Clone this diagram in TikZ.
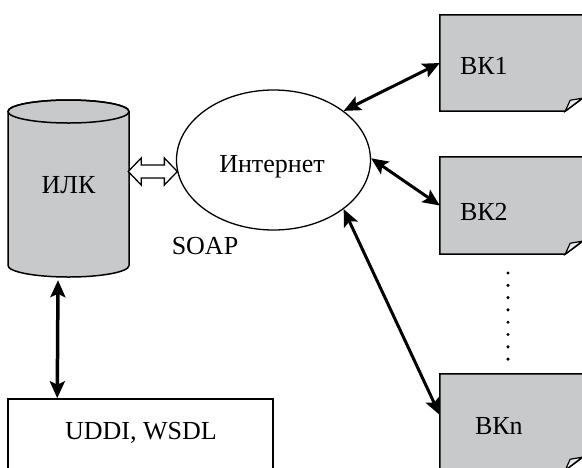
\documentclass[tikz,border=0pt]{standalone}
\usepackage{fontspec}
\setmainfont{Liberation Serif}
\usetikzlibrary{shapes.geometric,arrows.meta,calc}
\definecolor{docgray}{RGB}{200,201,203}
\begin{document}
\begin{tikzpicture}[x=1pt,y=-1pt,
  lbl/.style={font=\fontsize{26}{31}\selectfont, inner sep=0pt},
  conn/.style={line width=3pt, {Stealth[length=17pt,width=15pt,inset=3.5pt]}-{Stealth[length=17pt,width=15pt,inset=3.5pt]}},
  docbox/.style={rectangle, minimum width=144pt, minimum height=96pt, inner sep=0pt},
  shapeline/.style={draw=black, line width=1.5pt, line join=miter},
  dotty/.style={fill=black}]
\useasboundingbox (0,0) rectangle (582,467);

% cylinder ИЛК
\filldraw[fill=docgray, shapeline] (8,111.5) -- (8,265.5)
  arc[start angle=180, end angle=0, x radius=60.5, y radius=11.5]
  -- (129,111.5)
  arc[start angle=0, end angle=-180, x radius=60.5, y radius=11.5] -- cycle;
\draw[shapeline] (68.5,111.5) ellipse [x radius=60.5, y radius=11.5];
\node[rectangle, minimum width=121pt, minimum height=177pt, inner sep=0pt] (ilk) at (68.5,188.5) {};
\node[lbl] (ilktxt) at (68.5,185) {ИЛК};

% Internet ellipse
\node[ellipse, draw, line width=1.3pt, minimum width=194pt, minimum height=140pt, inner sep=0pt, lbl] (inet) at (273.5,160) {};
\node[lbl] (inettxt) at (272,167) {Интернет};
\node[lbl] (soap) at (205,246) {SOAP};

% documents
\node[docbox] (bk1) at (512,63) {};
\node[docbox, minimum height=97pt] (bk2) at (512,205.5) {};
\node[docbox] (bkn) at (512,422) {};
\foreach \n in {bk1,bk2,bkn}{
  \filldraw[fill=docgray, shapeline] (\n.north west) -- (\n.north east)
    -- ($(\n.south east)+(0,-14)$) -- ($(\n.south east)+(-19,0)$) -- (\n.south west) -- cycle;
  \filldraw[fill=docgray!35, draw=black, line width=1.2pt, line join=miter]
    ($(\n.south east)+(-19,0)$) -- ($(\n.south east)+(-14,-11)$) -- ($(\n.south east)+(-2,-13)$) -- cycle;
}
\node[lbl, anchor=west] (bk1txt) at ($(bk1.west)+(20,3)$) {ВК1};
\node[lbl, anchor=west] (bk2txt) at ($(bk2.west)+(20,6)$) {ВК2};
\node[lbl, anchor=west] (bkntxt) at ($(bkn.west)+(35,4)$) {ВКn};

% dots
\foreach \k in {0,...,7}{
  \fill[dotty] (508,{273+12.3*\k}) circle (1.7);
}

% UDDI box
\node[rectangle, draw, line width=1.5pt, minimum width=265pt, minimum height=80pt, inner sep=0pt] (uddi) at (140.5,439) {};
\node[lbl] (uddtxt) at (141,433) {UDDI, WSDL};

% connectors
\draw[conn] (inet.35) -- (bk1.west);
\draw[conn] (inet.1) -- (bk2.west);
\draw[conn] (inet.-35) -- ($(bkn.west)+(0,-7)$);
\draw[conn, line width=3.5pt] ($(ilk.south)+(-10.5,3)$) -- ($(uddi.north west)+(50,0)$);

% hollow double arrow ИЛК <-> Интернет
\coordinate (ha) at ($(ilk.east)+(-1,-17)$);
\coordinate (hb) at ($(ha -| inet.west)+(1.5,0)$);
\filldraw[fill=white, draw=black, line width=1.3pt, line join=miter]
  (ha) -- ++(13,-13.5) -- ++(0,7) -- ($(hb)+(-13,-6.5)$) -- ++(0,-7) -- (hb)
  -- ++(-13,13.5) -- ++(0,-7) -- ($(ha)+(13,6.5)$) -- ++(0,7) -- cycle;
\end{tikzpicture}
\end{document}
